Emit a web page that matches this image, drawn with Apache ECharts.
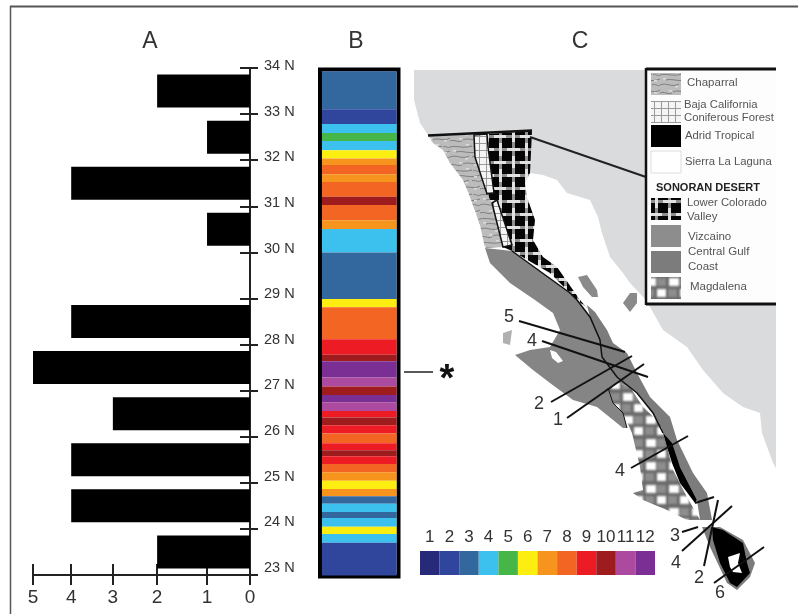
<!DOCTYPE html>
<html><head><meta charset="utf-8">
<style>html,body{margin:0;padding:0;background:#fff}#c{width:798px;height:614px;filter:blur(0.45px)}</style>
<script src="https://cdn.jsdelivr.net/npm/echarts@6/dist/echarts.min.js"></script>
</head><body><div id="c"></div>
<script>
// ---- Panel A
const latLabels = [23,24,25,26,27,28,29,30,31,32,33,34];
const bandNames = ['33-34','32-33','31-32','30-31','29-30','28-29','27-28','26-27','25-26','24-25','23-24'];
const counts = [2,1,4,1,0,4,5,3,4,4,2];
const countTicks = [0,1,2,3,4,5];
// the hand-drawn count axis is not evenly spaced: where each tick sits along it
const tickPlacement = [0,0.99,2.14,3.16,4.12,5];
// ---- Panel B: class of each latitude band, from north to south, and the latitude at which it ends
const classColors = ['#262a78','#2f469c','#33689f','#3cc1ef','#46b649','#fdee12','#f7941d','#f26522','#ed1c24','#9e1b1e','#ab4a9e','#7b2e94'];
const classNames = ['1','2','3','4','5','6','7','8','9','10','11','12'];
const coreTop = 33.93;
const coreClass = [3,2,4,5,4,6,7,8,7,8,10,8,7,4,3,6,8,9,10,12,11,10,12,11,9,10,9,8,9,10,9,8,7,6,7,3,4,3,4,6,4,2];
const coreEnd = [33.11,32.79,32.59,32.42,32.22,32.04,31.90,31.70,31.53,31.21,31.03,30.70,30.51,30.00,28.99,28.81,28.12,27.78,27.64,27.29,27.09,26.91,26.75,26.56,26.42,26.25,26.07,25.86,25.71,25.58,25.41,25.23,25.05,24.87,24.71,24.55,24.37,24.24,24.05,23.89,23.70,22.99];
// ---- Panel C: outlines of the map regions
const mainland = [[414,70],[776,70],[776,468],[773,463],[762,433],[760,413],[743,407],[723,393],[703,370],[687,347],[663,330],[650,307],[646,300],[630,283],[623,273],[610,257],[602,233],[598,217],[590,200],[567,193],[557,180],[543,175],[530,173],[528,135],[428,135],[420,123],[414,100]];
const islandA = [[578,277],[587,275],[597,290],[598,297],[592,297],[583,287]];
const islandB = [[623,303],[630,293],[637,293],[637,303],[630,312]];
const cedros = [[503,333],[512,330],[510,345],[503,343]];
const chaparral = [[428,135],[474,134],[475,157],[487,194],[492,203],[503,247],[485,248],[480,225],[470,197],[463,180],[450,163],[443,150],[433,143]];
const forestN = [[474,135],[487,134],[488,147],[494,193],[487,194],[475,157]];
const forestS = [[492,203],[497,200],[512,245],[503,247]];
const colorado = [[487,134],[532,131],[530,173],[525,183],[527,197],[535,220],[533,240],[543,257],[557,267],[580,300],[587,308],[577,300],[550,273],[512,251],[503,247],[492,203],[487,194],[494,193],[488,147]];
const vizcaino = [[485,248],[512,251],[570,293],[577,300],[590,317],[600,340],[602,357],[617,377],[637,393],[630,387],[618,383],[608,388],[613,403],[623,413],[627,428],[623,428],[597,407],[573,400],[550,383],[533,370],[515,355],[530,350],[550,347],[560,330],[553,313],[535,300],[510,283],[490,263]];
const gulfCoast = [[587,305],[595,312],[607,330],[613,343],[627,353],[637,373],[650,397],[670,417],[677,440],[693,473],[707,493],[712,520],[700,520],[697,500],[680,467],[663,433],[653,413],[637,393],[617,377],[602,357],[600,340],[590,317]];
const magdalena = [[608,388],[618,383],[630,387],[643,407],[660,423],[667,447],[673,470],[687,497],[700,520],[687,520],[667,510],[643,500],[633,493],[643,490],[640,467],[632,433],[623,413],[613,403]];
const capeGray = [[702,527],[720,527],[743,540],[755,563],[750,577],[737,590],[727,583],[710,547]];
const tropicalN = [[663,433],[672,443],[680,467],[697,500],[695,503],[680,483],[672,463],[667,447]];
const tropicalS = [[712,527],[723,530],[743,543],[747,563],[750,573],[737,587],[730,583],[720,563],[713,540]];
const laguna = [[728,557],[740,553],[738,563],[742,573],[733,572],[730,567]];
const bayIsland = [[550,350],[556,352],[563,361],[558,363],[552,358]];
const divideLine = [[512,251],[570,293],[577,300],[590,317],[600,340],[602,357],[617,377],[637,393],[653,413],[663,433]];
const magdalenaEdge = [[608,388],[613,403],[623,413],[627,428]];
const transects = [
  ['5',519,321,625,352,509,317],['4',542,341,648,377,532,341],['2',551,402,632,356,539,404],
  ['1',567,418,644,364,558,420],['4',631,468,688,436,620,471],['3',682,532,698,527,675,536],
  ['',695,503,714,497,0,0],['4',682,551,732,506,676,563],['2',704,566,718,500,699,578],['6',714,583,764,547,720,593]];
const legendSingle = [
  ['chaparral',73,['Chaparral'],[83],687],
  ['forest',101,['Baja California','Coniferous Forest'],[105,118],684],
  ['#000',125,['Adrid Tropical'],[136],685],
  ['#fff',151,['Sierra La Laguna'],[162],685],
  ['weave',198,['Lower Colorado','Valley'],[203,217],687],
  ['#8d8d8d',225,['Vizcaino'],[237],688],
  ['#7c7c7c',251,['Central Gulf','Coast'],[252,267],688],
  ['brick',277,['Magdalena'],[287],690]];

// ---- Fill patterns
function tile(w,h,draw){const c=document.createElement('canvas');c.width=w;c.height=h;draw(c.getContext('2d'));return {image:c,repeat:'repeat'};}
const patterns = {
  weave: tile(26,26,g=>{g.fillStyle='#050505';g.fillRect(0,0,26,26);g.fillStyle='#8f8f8f';
    [5,18].forEach(p=>{g.fillRect(p,0,3,26);g.fillRect(0,p,26,3);});
    g.fillStyle='#e2e2e2';
    g.fillRect(0,5,12,3);g.fillRect(13,18,13,3);g.fillRect(5,13,3,13);g.fillRect(18,0,3,12);}),
  forest: tile(7,7,g=>{g.fillStyle='#f5f5f5';g.fillRect(0,0,7,7);g.fillStyle='#9a9a9a';g.fillRect(0,3,7,1);g.fillRect(3,0,1,7);}),
  brick: tile(23,23,g=>{g.fillStyle='#6a6a6a';g.fillRect(0,0,23,23);g.filter='blur(1px)';
    g.fillStyle='#8d8d8d';g.fillRect(13,2,9,8);g.fillRect(1,13,9,8);
    g.fillStyle='#fff';g.fillRect(2,2,10,8);g.fillRect(13,13,9,8);}),
  chaparral: tile(30,24,g=>{g.fillStyle='#bcbcbc';g.fillRect(0,0,30,24);g.strokeStyle='#7f7f7f';g.lineWidth=1;
    [[0,3,7,1,13,5,22,2],[6,8,13,6,20,11,30,7],[0,13,6,10,12,16,19,12],[13,20,18,17,24,22,30,18],[0,21,4,19,8,23,12,21],[22,13,25,11,28,15,30,13],[23,3,25,1,28,5,30,3]].forEach(p=>{
      g.beginPath();g.moveTo(p[0],p[1]);g.bezierCurveTo(p[2],p[3],p[4],p[5],p[6],p[7]);g.stroke();});
    g.fillStyle='#dcdcdc';[[3,6],[16,0],[24,8],[9,18],[24,20],[15,14]].forEach(d=>g.fillRect(d[0],d[1],3,1.5));})
};
const geoFeature = (name, ring) => ({type:'Feature',properties:{name},geometry:{type:'Polygon',coordinates:[ring.concat([ring[0]]).map(p=>[p[0],-p[1]])]}});
const regionList = [
  ['Mainland',mainland,'#d9dbdc'],['Island A',islandA,'#8a8a8a'],['Island B',islandB,'#8a8a8a'],['Cedros',cedros,'#b0b0b0'],
  ['Central Gulf Coast',gulfCoast,'#7c7c7c'],['Vizcaino',vizcaino,'#858585'],['Bay island',bayIsland,'#ffffff'],
  ['Chaparral',chaparral,patterns.chaparral],
  ['Lower Colorado Valley',colorado,patterns.weave],
  ['Coniferous Forest N',forestN,patterns.forest,1.5],['Coniferous Forest S',forestS,patterns.forest,1.5],
  ['Magdalena',magdalena,patterns.brick],['Cape',capeGray,'#7c7c7c'],
  ['Arid Tropical N',tropicalN,'#000'],['Arid Tropical S',tropicalS,'#000'],['Sierra La Laguna',laguna,'#fff']];
echarts.registerMap('baja',{type:'FeatureCollection',features:regionList.map(r=>geoFeature(r[0],r[1]))});

// ---- Helpers for annotations
const INK='#333';
const txt=(t,x,y,size,extra)=>Object.assign({type:'text',z:20,silent:true,style:{text:t,x,y,fill:INK,fontFamily:'Liberation Sans',fontSize:size,align:'center',verticalAlign:'middle'}},extra||{});
const leftTxt=(t,x,y,size,fill,weight)=>({type:'text',z:20,silent:true,style:{text:t,x,y,fill:fill||'#555',fontFamily:'Liberation Sans',fontSize:size,fontWeight:weight||'normal',align:'left',verticalAlign:'middle'}});
const seg=(x1,y1,x2,y2,w,c,z)=>({type:'line',z:z||15,silent:true,shape:{x1,y1,x2,y2},style:{stroke:c||'#111',lineWidth:w||2}});
const poly=(pts,w)=>({type:'polyline',z:15,silent:true,shape:{points:pts},style:{stroke:'#111',lineWidth:w,fill:null}});

const graphicEls=[
  seg(10,6.5,798,6.5,2,'#555'),seg(10.5,6,10.5,614,1.5,'#555'),
  txt('A',150,42,23),txt('B',356,42,23),txt('C',580,42,23),
  seg(404,372,433,372,1.5,'#222'),
  txt('*',447,381,40,{style:{text:'*',x:447,y:381,fill:'#111',fontFamily:'Liberation Sans',fontWeight:'bold',fontSize:38,align:'center',verticalAlign:'middle'}}),
  seg(428,135.5,532,130.5,2.5,'#111'),seg(530,137,646,177,2,'#222'),
  poly(divideLine,1.5),poly(magdalenaEdge,1),
  {type:'rect',z:16,silent:true,shape:{x:646,y:69,width:130,height:235},style:{fill:'#fdfdfd',stroke:null}},
  seg(646,69,776,69,3,'#111',17),seg(646,304,776,304,3,'#111',17),seg(646,68,646,305,2.5,'#111',17),
  leftTxt('SONORAN DESERT',656,188,11,'#222','bold')
];
legendSingle.forEach(l=>{
  const fill = patterns[l[0]] || l[0];
  graphicEls.push({type:'rect',z:18,silent:true,shape:{x:651,y:l[1],width:30,height:22},style:{fill,stroke:l[0]==='#fff'?'#ddd':null,lineWidth:1}});
  l[2].forEach((t,i)=>graphicEls.push(leftTxt(t,l[4],l[3][i],t.length>13?11.3:11.5)));
});
transects.forEach(t=>{
  graphicEls.push(seg(t[1],t[2],t[3],t[4],2,'#111'));
  if(t[0]) graphicEls.push(txt(t[0],t[5],t[6],18));
});

// ---- Chart
const coreBands = coreClass.map((c,i)=>[c-1, i===0?coreTop:coreEnd[i-1], coreEnd[i]]);
const place = v => tickPlacement[v];
const axisInk={lineStyle:{color:'#222',width:2}};
const option={
  animation:false,backgroundColor:'#fff',textStyle:{fontFamily:'Liberation Sans'},
  graphic:{elements:graphicEls},
  geo:{map:'baja',silent:true,roam:false,aspectScale:1,left:0,top:0,width:798,height:614,
    boundingCoords:[[0,0],[798,-614]],label:{show:false},emphasis:{disabled:true},
    itemStyle:{borderWidth:0,borderColor:'transparent'},
    regions:regionList.map(r=>({name:r[0],itemStyle:{areaColor:r[2],borderColor:r[3]?'#111':'transparent',borderWidth:r[3]||0}}))},
  grid:[
    {left:33,top:68,width:217,height:507},
    {left:320,top:69.5,width:78.5,height:507,show:true,borderColor:'#000',borderWidth:4,backgroundColor:'transparent'},
    {left:420,top:551,width:235,height:24},
    {left:33,top:66,width:217,height:502}
  ],
  xAxis:[
    {gridIndex:0,type:'value',inverse:true,min:0,max:5,position:'bottom',splitLine:{show:false},
     axisLine:axisInk,axisTick:{show:true,length:10,lineStyle:{color:'#222',width:2},customValues:tickPlacement},
     axisLabel:{margin:13,fontSize:19,color:INK,showMinLabel:true,showMaxLabel:true,customValues:tickPlacement,
       formatter:v=>String(countTicks[tickPlacement.indexOf(v)])}},
    {gridIndex:0,type:'value',inverse:true,min:0,max:5,position:'bottom',splitLine:{show:false},
     axisLine:{show:false},axisLabel:{show:false},
     axisTick:{show:true,inside:true,length:11,lineStyle:{color:'#222',width:2},customValues:tickPlacement}},
    {gridIndex:1,type:'value',min:-0.026,max:1.026,show:false},
    {gridIndex:2,type:'category',data:classNames,position:'top',axisLine:{show:false},axisTick:{show:false},
     axisLabel:{interval:0,fontSize:17,color:INK,margin:5}},
    {gridIndex:3,type:'value',min:0,max:5,show:false}
  ],
  yAxis:[
    {gridIndex:0,type:'category',inverse:true,data:bandNames,show:false},
    {gridIndex:3,type:'value',min:23,max:34,interval:1,position:'right',splitLine:{show:false},
     axisLine:{show:false},axisTick:{show:false},
     axisLabel:{margin:14,fontSize:14.5,color:INK,showMinLabel:true,showMaxLabel:true,formatter:v=>v+' N'}},
    {gridIndex:0,type:'value',min:23,max:34,interval:1,position:'right',splitLine:{show:false},
     axisLine:axisInk,axisLabel:{show:false},axisTick:{show:true,length:8,lineStyle:{color:'#222',width:2}}},
    {gridIndex:0,type:'value',min:23,max:34,interval:1,position:'right',splitLine:{show:false},
     axisLine:{show:false},axisLabel:{show:false},axisTick:{show:true,inside:true,length:10,lineStyle:{color:'#222',width:2}}},
    {gridIndex:1,type:'value',min:22.97,max:33.97,show:false},
    {gridIndex:2,type:'value',min:0,max:1,show:false}
  ],
  series:[
    {type:'bar',name:'Count',xAxisIndex:0,yAxisIndex:0,barWidth:33,z:1,silent:true,
     data:counts.map(place),itemStyle:{color:'#000'}},
    {type:'custom',name:'Core',xAxisIndex:2,yAxisIndex:4,silent:true,z:3,clip:false,
     data:coreBands,encode:{y:[1,2]},
     renderItem:(p,api)=>{
       const tl=api.coord([0,api.value(1)]),br=api.coord([1,api.value(2)]);
       return {type:'rect',shape:{x:tl[0],y:tl[1],width:br[0]-tl[0],height:br[1]-tl[1]},
         style:{fill:classColors[api.value(0)],stroke:null}};
     }},
    {type:'bar',name:'Classes',xAxisIndex:3,yAxisIndex:5,barWidth:'100%',silent:true,
     data:classColors.map(c=>({value:1,itemStyle:{color:c}}))}
  ]
};
echarts.init(document.getElementById('c'),null,{renderer:'canvas'}).setOption(option);
</script></body></html>
